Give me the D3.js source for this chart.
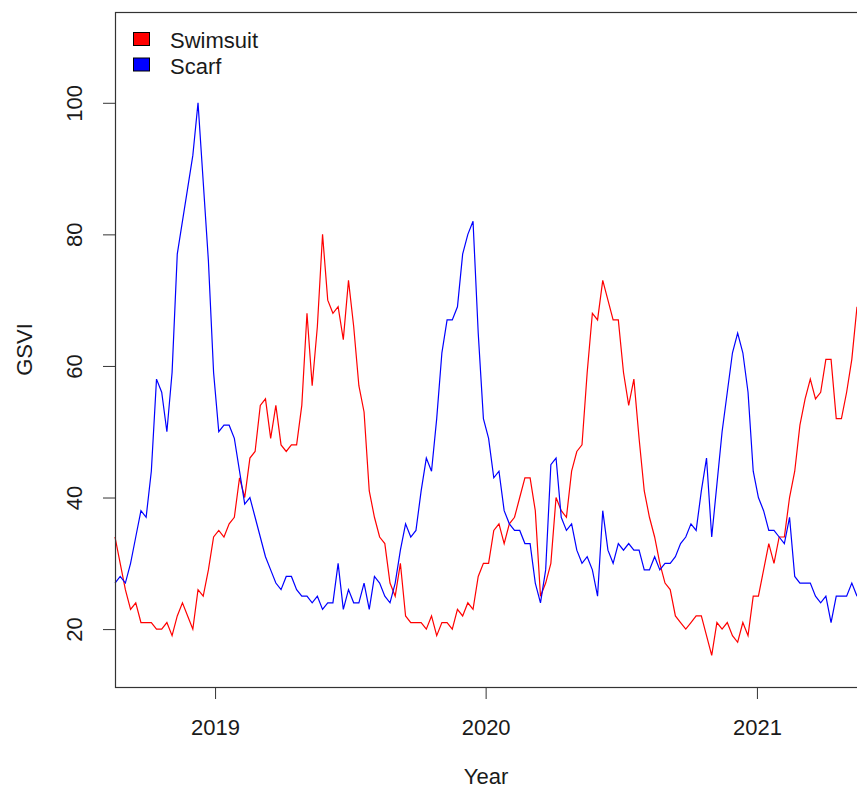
<!DOCTYPE html>
<html>
<head>
<meta charset="utf-8">
<script src="https://cdn.jsdelivr.net/npm/d3@7"></script>
<style>
  body { margin: 0; background: #fff; }
  svg { display: block; font-family: "Liberation Sans", Arial, sans-serif; }
</style>
</head>
<body>
<div id="chart"></div>
<script>
// weekly series, first week starting 2018-08-19
var startDate = new Date(Date.UTC(2018, 7, 19));
var endDate = new Date(Date.UTC(2021, 4, 16));

var swimsuit = [34, 30, 26, 23, 24, 21, 21, 21, 20, 20, 21, 19, 22, 24, 22, 20, 26, 25, 29, 34,
  35, 34, 36, 37, 43, 40, 46, 47, 54, 55, 49, 54, 48, 47, 48, 48, 54, 68, 57, 66,
  80, 70, 68, 69, 64, 73, 66, 57, 53, 41, 37, 34, 33, 27, 25, 30, 22, 21, 21, 21,
  20, 22, 19, 21, 21, 20, 23, 22, 24, 23, 28, 30, 30, 35, 36, 33, 36, 37, 40, 43,
  43, 38, 25, 27, 30, 40, 38, 37, 44, 47, 48, 59, 68, 67, 73, 70, 67, 67, 59, 54,
  58, 49, 41, 37, 34, 30, 27, 26, 22, 21, 20, 21, 22, 22, 19, 16, 21, 20, 21, 19,
  18, 21, 19, 25, 25, 29, 33, 30, 34, 34, 40, 44, 51, 55, 58, 55, 56, 61, 61, 52,
  52, 56, 61, 69];

var scarf = [27, 28, 27, 30, 34, 38, 37, 44, 58, 56, 50, 59, 77, 82, 87, 92, 100, 88, 76, 59,
  50, 51, 51, 49, 44, 39, 40, 37, 34, 31, 29, 27, 26, 28, 28, 26, 25, 25, 24, 25,
  23, 24, 24, 30, 23, 26, 24, 24, 27, 23, 28, 27, 25, 24, 27, 32, 36, 34, 35, 41,
  46, 44, 52, 62, 67, 67, 69, 77, 80, 82, 65, 52, 49, 43, 44, 38, 36, 35, 35, 33,
  33, 27, 24, 29, 45, 46, 37, 35, 36, 32, 30, 31, 29, 25, 38, 32, 30, 33, 32, 33,
  32, 32, 29, 29, 31, 29, 30, 30, 31, 33, 34, 36, 35, 41, 46, 34, 42, 50, 56, 62,
  65, 62, 56, 44, 40, 38, 35, 35, 34, 33, 37, 28, 27, 27, 27, 25, 24, 25, 21, 25,
  25, 25, 27, 25];

var seriesNames = ["Swimsuit", "Scarf"];
var seriesColors = ["#ff0000", "#0000ff"];
var yTicks = [20, 40, 60, 80, 100];
var xTickYears = [2019, 2020, 2021];
var yLimits = [11.2, 113.8];

var width = 857, height = 789;
var plot = { left: 115, top: 12, right: 857, bottom: 687 };

var svg = d3.select("#chart").append("svg")
  .attr("width", width)
  .attr("height", height);

var x = d3.scaleUtc()
  .domain([startDate, endDate])
  .range([plot.left, plot.right]);

var y = d3.scaleLinear()
  .domain(yLimits)
  .range([plot.bottom, plot.top]);

var weeks = swimsuit.map((d, i) => d3.utcDay.offset(startDate, 7 * i));

var line = d3.line()
  .x((d, i) => x(weeks[i]))
  .y(d => y(d));

[swimsuit, scarf].forEach((s, k) => {
  svg.append("path")
    .datum(s)
    .attr("d", line)
    .attr("fill", "none")
    .attr("stroke", seriesColors[k])
    .attr("stroke-width", 1.2);
});

// x axis
var xAxis = svg.append("g")
  .attr("transform", `translate(0,${plot.bottom})`)
  .call(d3.axisBottom(x)
    .tickValues(xTickYears.map(yr => new Date(Date.UTC(yr, 0, 1))))
    .tickFormat(d3.utcFormat("%Y"))
    .tickSize(12)
    .tickPadding(20));
xAxis.select(".domain").remove();
xAxis.selectAll("line").attr("stroke", "#333");
xAxis.selectAll("text")
  .attr("font-size", 22)
  .attr("font-family", "Liberation Sans, Arial, sans-serif")
  .attr("fill", "#1a1a1a");

// y axis
var yAxis = svg.append("g")
  .attr("transform", `translate(${plot.left},0)`)
  .call(d3.axisLeft(y).tickValues(yTicks).tickSize(12));
yAxis.select(".domain").remove();
yAxis.selectAll("line").attr("stroke", "#333");
yAxis.selectAll("text")
  .attr("transform", "rotate(-90)")
  .attr("x", 0)
  .attr("y", -33)
  .attr("dy", 0)
  .attr("text-anchor", "middle")
  .attr("font-size", 22)
  .attr("font-family", "Liberation Sans, Arial, sans-serif")
  .attr("fill", "#1a1a1a");

// plot box (right side runs off the picture)
svg.append("rect")
  .attr("x", plot.left + 0.5)
  .attr("y", plot.top + 0.5)
  .attr("width", plot.right - plot.left + 10)
  .attr("height", plot.bottom - plot.top)
  .attr("fill", "none")
  .attr("stroke", "#333")
  .attr("stroke-width", 1.2);

// axis titles
svg.append("text")
  .attr("x", (plot.left + plot.right) / 2)
  .attr("y", 784)
  .attr("text-anchor", "middle")
  .attr("font-size", 22)
  .attr("fill", "#1a1a1a")
  .text("Year");

svg.append("text")
  .attr("transform", `translate(32,${(plot.top + plot.bottom) / 2}) rotate(-90)`)
  .attr("text-anchor", "middle")
  .attr("font-size", 22)
  .attr("fill", "#1a1a1a")
  .text("GSVI");

// legend
var legend = svg.append("g");
seriesNames.forEach((name, k) => {
  legend.append("rect")
    .attr("x", 133.5)
    .attr("y", 32.5 + k * 25.5)
    .attr("width", 16)
    .attr("height", 13)
    .attr("fill", seriesColors[k])
    .attr("stroke", "#000")
    .attr("stroke-width", 1);
  legend.append("text")
    .attr("x", 170)
    .attr("y", 48 + k * 26)
    .attr("font-size", 22)
    .attr("fill", "#1a1a1a")
    .text(name);
});
</script>
</body>
</html>
